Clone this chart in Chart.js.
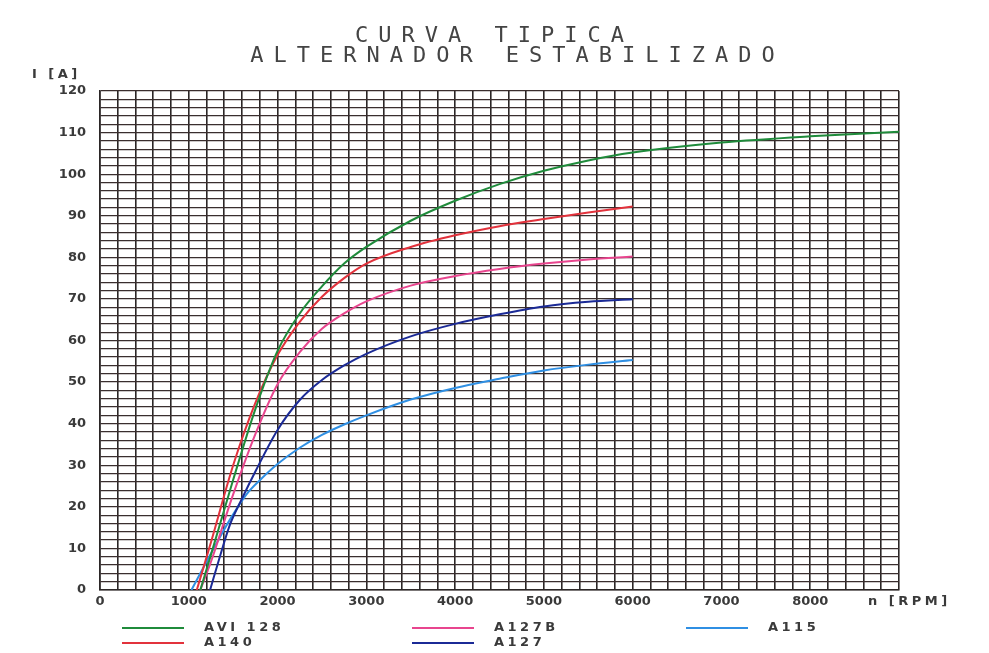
<!DOCTYPE html>
<html>
<head>
<meta charset="utf-8">
<script src="https://cdn.jsdelivr.net/npm/chart.js@4/dist/chart.umd.min.js"></script>
<style>
  html, body { margin: 0; padding: 0; background: #fff; }
  #wrap { position: relative; width: 989px; height: 653px; overflow: hidden; }
  #chart { position: absolute; left: 0; top: 0; }
  .txt { position: absolute; color: #3a3a3a; font-family: "DejaVu Sans", sans-serif; white-space: nowrap; }
  .title { font-family: "DejaVu Sans Mono", monospace; font-size: 22px; letter-spacing: 10px; left: 0; width: 989px; box-sizing: border-box; text-align: center; line-height: 20px; color: #444; }
  .lbl { font-size: 13px; font-weight: bold; letter-spacing: 3.5px; }
  .leg { position: absolute; height: 2px; width: 62px; }
</style>
</head>
<body>
<div id="wrap">
  <canvas id="chart" width="989" height="653"></canvas>
  <div class="txt title" style="top:25px;">CURVA TIPICA</div>
  <div class="txt title" style="top:45px; padding-left:46px;">ALTERNADOR ESTABILIZADO</div>
  <div class="txt lbl" style="left:32px; top:66px;">I [A]</div>
  <div class="txt lbl" style="left:868px; top:593px;">n [RPM]</div>
  <div id="legend"></div>
</div>
<script>
// values: RPM and current (A) per alternator
const avi128Rpm = [1130, 1250, 1500, 1750, 2000, 2250, 2500, 2750, 3000, 3500, 4000, 4500, 5000, 5500, 6000, 7000, 8000, 9000];
const avi128Amp = [0, 8.5, 26.5, 43.5, 57.5, 66.5, 73, 78.5, 82.5, 88.8, 93.6, 97.6, 100.8, 103.3, 105.2, 107.6, 109.1, 110.2];

const a140Rpm = [1090, 1250, 1500, 1750, 2000, 2250, 2500, 2750, 3000, 3500, 4000, 4500, 5000, 5500, 6000];
const a140Amp = [0, 11.5, 30, 45, 56.5, 64.5, 70.5, 75, 78.5, 82.5, 85.3, 87.5, 89.2, 90.8, 92.2];

const a127bRpm = [1130, 1250, 1500, 1750, 2000, 2250, 2500, 2750, 3000, 3500, 4000, 4500, 5000, 5500, 6000];
const a127bAmp = [0, 6.8, 23, 37.5, 49.5, 57.2, 62.8, 66.5, 69.4, 73.2, 75.5, 77.2, 78.5, 79.5, 80.2];

const a127Rpm = [1240, 1350, 1460, 1600, 1750, 2000, 2250, 2500, 2750, 3000, 3500, 4000, 4500, 5000, 5500, 6000];
const a127Amp = [0, 8, 15.5, 22, 28.5, 38.5, 45.7, 50.5, 54, 56.8, 61, 64, 66.3, 68.2, 69.3, 69.9];

const a115Rpm = [1030, 1250, 1460, 1650, 1800, 2000, 2250, 2500, 2750, 3000, 3500, 4000, 4500, 5000, 5500, 6000];
const a115Amp = [0, 8.8, 16.8, 23, 26.4, 30.3, 34.2, 37.3, 39.8, 42, 45.8, 48.6, 50.8, 52.8, 54.2, 55.3];

const seriesNames = ['AVI 128', 'A140', 'A127B', 'A127', 'A115'];
const seriesColors = ['#1f8b3b', '#e2323c', '#e8458e', '#1b2a96', '#2f8fe3'];

function pts(xs, ys) {
  return xs.map((x, i) => ({ x: x, y: ys[i] }));
}

const allData = [
  pts(avi128Rpm, avi128Amp),
  pts(a140Rpm, a140Amp),
  pts(a127bRpm, a127bAmp),
  pts(a127Rpm, a127Amp),
  pts(a115Rpm, a115Amp)
];

const datasets = allData.map((d, i) => ({
  label: seriesNames[i],
  data: d,
  borderColor: seriesColors[i],
  backgroundColor: seriesColors[i],
  borderWidth: 2,
  pointRadius: 0,
  cubicInterpolationMode: 'monotone',
  fill: false
}));

const tickFont = { family: 'DejaVu Sans', size: 13, weight: 'bold' };

new Chart(document.getElementById('chart'), {
  type: 'line',
  data: { datasets: datasets },
  options: {
    responsive: false,
    animation: false,
    layout: { padding: { top: 91, right: 90, bottom: 33, left: 0 } },
    plugins: { legend: { display: false }, tooltip: { enabled: false } },
    scales: {
      x: {
        type: 'linear',
        min: 0, max: 9000,
        afterFit: (s) => { s.height = 30; },
        ticks: {
          stepSize: 200, autoSkip: false, maxRotation: 0,
          color: '#3a3a3a', font: tickFont, padding: 4,
          callback: (v) => (v % 1000 === 0 && v < 9000 ? String(v) : '')
        },
        grid: { color: '#2b2626', lineWidth: 1.6, drawTicks: false },
        border: { color: '#2b2626', width: 1.6 }
      },
      y: {
        min: 0, max: 120,
        afterFit: (s) => { s.width = 100; },
        ticks: {
          stepSize: 2, autoSkip: false,
          color: '#3a3a3a', font: tickFont, padding: 14,
          callback: (v) => (v % 10 === 0 ? String(v) : '')
        },
        grid: { color: '#3a2e2e', lineWidth: 1.3, drawTicks: false },
        border: { color: '#2b2626', width: 1.6 }
      }
    }
  }
});

// legend laid out as in the sheet: three columns, two rows
const legendPos = [
  [122, 627], [122, 642], [412, 627], [412, 642], [686, 627]
];
const legend = document.getElementById('legend');
seriesNames.forEach((name, i) => {
  const line = document.createElement('div');
  line.className = 'leg';
  line.style.left = legendPos[i][0] + 'px';
  line.style.top = legendPos[i][1] + 'px';
  line.style.background = seriesColors[i];
  legend.appendChild(line);
  const t = document.createElement('div');
  t.className = 'txt lbl';
  t.style.left = (legendPos[i][0] + 82) + 'px';
  t.style.top = (legendPos[i][1] - 8) + 'px';
  t.textContent = name;
  legend.appendChild(t);
});
</script>
</body>
</html>
